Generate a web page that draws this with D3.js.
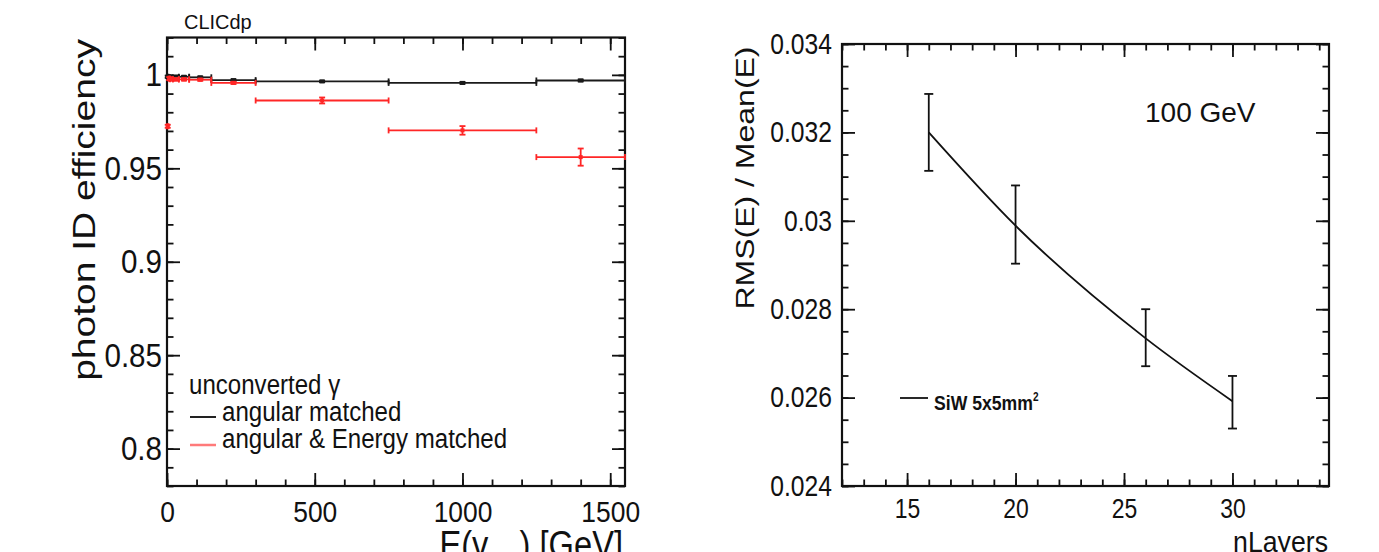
<!DOCTYPE html>
<html>
<head>
<meta charset="utf-8">
<script src="https://cdn.jsdelivr.net/npm/d3@7"></script>
<style>
  body { margin: 0; background: #fff; }
  text { font-family: "Liberation Sans", Arial, Helvetica, sans-serif; fill: #111; }
</style>
</head>
<body>
<svg id="chart"></svg>
<script>
// ---- left panel data: photon ID efficiency vs E(gamma_true) ----
const binLow  = [0, 5, 10, 20, 40, 75, 150, 300, 750, 1250];
const binHigh = [5, 10, 20, 40, 75, 150, 300, 750, 1250, 1550];
const angularEff = [0.999, 0.9985, 0.9985, 0.9985, 0.999, 0.9987, 0.9972, 0.9965, 0.9957, 0.9970];
const angularErr = [0.0006, 0.0005, 0.0005, 0.0004, 0.0004, 0.0004, 0.0004, 0.0004, 0.0005, 0.0005];
const energyEff  = [0.9725, 0.998, 0.9976, 0.9976, 0.9976, 0.9974, 0.9957, 0.9863, 0.9703, 0.9560];
const energyErr  = [0.0008, 0.0008, 0.0007, 0.0007, 0.0007, 0.0006, 0.0006, 0.0016, 0.0023, 0.0046];
const effXTicks = [0, 500, 1000, 1500];
const effYTicks = [0.8, 0.85, 0.9, 0.95, 1];
const effYLabels = ["0.8", "0.85", "0.9", "0.95", "1"];

// ---- right panel data: energy resolution vs number of layers ----
const nLayers = [16, 20, 26, 30];
const resolution = [0.0320, 0.02989, 0.02734, 0.02592];
const resErrUp   = [0.00087, 0.00091, 0.00066, 0.00057];
const resErrDown = [0.00087, 0.00086, 0.00063, 0.00062];
const resXTicks = [15, 20, 25, 30];
const resYTicks = [0.024, 0.026, 0.028, 0.03, 0.032, 0.034];
const resYLabels = ["0.024", "0.026", "0.028", "0.03", "0.032", "0.034"];

const width = 1379, height = 552;
const svg = d3.select("#chart").attr("width", width).attr("height", height);
svg.append("rect").attr("width", width).attr("height", height).attr("fill", "#fff");

// the source figure is squeezed sideways, so squeeze the text the same way
function squeeze(sel, k) {
  sel.each(function () {
    const t = d3.select(this);
    const x = +t.attr("x") || 0, y = +t.attr("y") || 0;
    t.attr("x", null).attr("y", null).attr("transform", `translate(${x},${y}) scale(${k},1)`);
  });
  return sel;
}

// draws a ROOT style frame with inward ticks on all four sides
function drawFrame(x, y, majorX, minorX, majorY, minorY) {
  const [x0, x1] = x.range();
  const [y0, y1] = y.range();
  const g = svg.append("g");
  const ax = [
    {axis: d3.axisBottom, s: x, at: `translate(0,${y0})`, maj: majorX, min: minorX},
    {axis: d3.axisTop, s: x, at: `translate(0,${y1})`, maj: majorX, min: minorX},
    {axis: d3.axisLeft, s: y, at: `translate(${x0},0)`, maj: majorY, min: minorY},
    {axis: d3.axisRight, s: y, at: `translate(${x1},0)`, maj: majorY, min: minorY}
  ];
  ax.forEach(a => {
    g.append("g").attr("transform", a.at)
      .call(a.axis(a.s).tickValues(a.min).tickSize(-6.5).tickFormat(""))
      .call(s => s.select(".domain").remove())
      .selectAll("line").attr("stroke", "#111").attr("stroke-width", 1.8);
    g.append("g").attr("transform", a.at)
      .call(a.axis(a.s).tickValues(a.maj).tickSize(-13).tickFormat(""))
      .call(s => s.select(".domain").remove())
      .selectAll("line").attr("stroke", "#111").attr("stroke-width", 1.8);
  });
  g.append("rect")
    .attr("x", x0).attr("y", y1)
    .attr("width", x1 - x0).attr("height", y0 - y1)
    .attr("fill", "none").attr("stroke", "#111").attr("stroke-width", 2.2);
}

// ================= left panel =================
const xE = d3.scaleLinear().domain([0, 1550]).range([167, 625]);
const yE = d3.scaleLinear().domain([0.78, 1.02]).range([486, 37.5]);

drawFrame(xE, yE, effXTicks, d3.range(0, 1551, 100),
  effYTicks, d3.range(0, 25).map(i => +(0.78 + i * 0.01).toFixed(2)));

// tick labels
svg.append("g").attr("transform", `translate(0,486)`)
  .call(d3.axisBottom(xE).tickValues(effXTicks).tickSize(0).tickPadding(15).tickFormat(d3.format("d")))
  .call(s => s.select(".domain").remove())
  .selectAll("text").attr("font-size", 30).attr("font-family", null).call(squeeze, 0.88);
svg.append("g").attr("transform", `translate(167,0)`)
  .call(d3.axisLeft(yE).tickValues(effYTicks).tickSize(0).tickPadding(5)
    .tickFormat((d, i) => effYLabels[i]))
  .call(s => s.select(".domain").remove())
  .selectAll("text").attr("font-size", 34).attr("font-family", null).call(squeeze, 0.87);

function drawBins(eff, err, color, markerW) {
  const g = svg.append("g").attr("stroke", color).attr("stroke-width", 1.8).attr("fill", color);
  binLow.forEach((lo, i) => {
    const hi = binHigh[i];
    const cx = xE((lo + hi) / 2), cy = yE(eff[i]);
    g.append("line").attr("x1", xE(lo)).attr("x2", xE(hi)).attr("y1", cy).attr("y2", cy);
    g.append("line").attr("x1", xE(lo)).attr("x2", xE(lo)).attr("y1", cy - 3).attr("y2", cy + 3);
    g.append("line").attr("x1", xE(hi)).attr("x2", xE(hi)).attr("y1", cy - 3).attr("y2", cy + 3);
    const yt = yE(eff[i] + err[i]), yb = yE(eff[i] - err[i]);
    g.append("line").attr("x1", cx).attr("x2", cx).attr("y1", yt).attr("y2", yb);
    g.append("line").attr("x1", cx - 3).attr("x2", cx + 3).attr("y1", yt).attr("y2", yt);
    g.append("line").attr("x1", cx - 3).attr("x2", cx + 3).attr("y1", yb).attr("y2", yb);
    g.append("rect").attr("x", cx - markerW / 2).attr("y", cy - 2).attr("width", markerW).attr("height", 4)
      .attr("stroke", "none");
  });
}
drawBins(angularEff, angularErr, "#1a1a1a", 5);
drawBins(energyEff, energyErr, "#ff2626", 4);

// legend
svg.append("text").attr("x", 189).attr("y", 394).attr("font-size", 28).text("unconverted γ").call(squeeze, 0.86);
svg.append("line").attr("x1", 190).attr("x2", 216).attr("y1", 417).attr("y2", 417)
  .attr("stroke", "#222").attr("stroke-width", 2);
svg.append("text").attr("x", 222).attr("y", 421).attr("font-size", 28).text("angular matched").call(squeeze, 0.86);
svg.append("line").attr("x1", 190).attr("x2", 216).attr("y1", 445).attr("y2", 445)
  .attr("stroke", "#ff7a7a").attr("stroke-width", 2.5);
svg.append("text").attr("x", 222).attr("y", 448).attr("font-size", 28).text("angular & Energy matched")
  .call(squeeze, 0.86);

svg.append("text").attr("x", 184).attr("y", 29).attr("font-size", 21).text("CLICdp").call(squeeze, 0.95);

// axis titles
svg.append("text")
  .attr("transform", "translate(95,210) scale(0.82,1) rotate(-90)")
  .attr("text-anchor", "middle").attr("font-size", 39)
  .text("photon ID efficiency");
const xt = svg.append("text").attr("x", 623).attr("y", 558).attr("text-anchor", "end").attr("font-size", 38);
xt.append("tspan").text("E(γ");
xt.append("tspan").attr("font-size", 21).attr("dy", 12).text("true");
xt.append("tspan").attr("dy", -12).text(") [GeV]");
xt.call(squeeze, 0.86);

// ================= right panel =================
const xR = d3.scaleLinear().domain([12, 34.45]).range([842, 1329]);
const yR = d3.scaleLinear().domain([0.024, 0.034]).range([486, 44]);

drawFrame(xR, yR, resXTicks, d3.range(12, 35, 1),
  resYTicks, d3.range(0, 21).map(i => +(0.024 + i * 0.0005).toFixed(4)));

svg.append("g").attr("transform", `translate(0,486)`)
  .call(d3.axisBottom(xR).tickValues(resXTicks).tickSize(0).tickPadding(13))
  .call(s => s.select(".domain").remove())
  .selectAll("text").attr("font-size", 27).attr("font-family", null).call(squeeze, 0.85);
svg.append("g").attr("transform", `translate(842,0)`)
  .call(d3.axisLeft(yR).tickValues(resYTicks).tickSize(0).tickPadding(10)
    .tickFormat((d, i) => resYLabels[i]))
  .call(s => s.select(".domain").remove())
  .selectAll("text").attr("font-size", 29).attr("font-family", null).call(squeeze, 0.85);

const resLine = d3.line()
  .x((d, i) => xR(nLayers[i]))
  .y(d => yR(d))
  .curve(d3.curveMonotoneX);
svg.append("path").datum(resolution)
  .attr("d", resLine).attr("fill", "none").attr("stroke", "#111").attr("stroke-width", 1.8);

const errG = svg.append("g").attr("stroke", "#111").attr("stroke-width", 1.8);
nLayers.forEach((n, i) => {
  const cx = xR(n), yt = yR(resolution[i] + resErrUp[i]), yb = yR(resolution[i] - resErrDown[i]);
  errG.append("line").attr("x1", cx).attr("x2", cx).attr("y1", yt).attr("y2", yb);
  errG.append("line").attr("x1", cx - 4.5).attr("x2", cx + 4.5).attr("y1", yt).attr("y2", yt);
  errG.append("line").attr("x1", cx - 4.5).attr("x2", cx + 4.5).attr("y1", yb).attr("y2", yb);
});

// legend + label
svg.append("line").attr("x1", 900).attr("x2", 928).attr("y1", 398).attr("y2", 398)
  .attr("stroke", "#111").attr("stroke-width", 1.8);
const lg = svg.append("text").attr("x", 934).attr("y", 410).attr("font-size", 21).attr("font-weight", "bold");
lg.append("tspan").text("SiW 5x5mm");
lg.append("tspan").attr("font-size", 12).attr("dy", -9).text("2");
lg.call(squeeze, 0.84);

svg.append("text").attr("x", 1145).attr("y", 122).attr("font-size", 28)
  .attr("font-family", "Open Sans, sans-serif").text("100 GeV");

svg.append("text")
  .attr("transform", "translate(754,178) scale(0.82,1) rotate(-90)")
  .attr("text-anchor", "middle").attr("font-size", 32)
  .text("RMS(E) / Mean(E)");
svg.append("text").attr("x", 1328).attr("y", 552).attr("text-anchor", "end").attr("font-size", 29)
  .text("nLayers").call(squeeze, 0.92);
</script>
</body>
</html>
